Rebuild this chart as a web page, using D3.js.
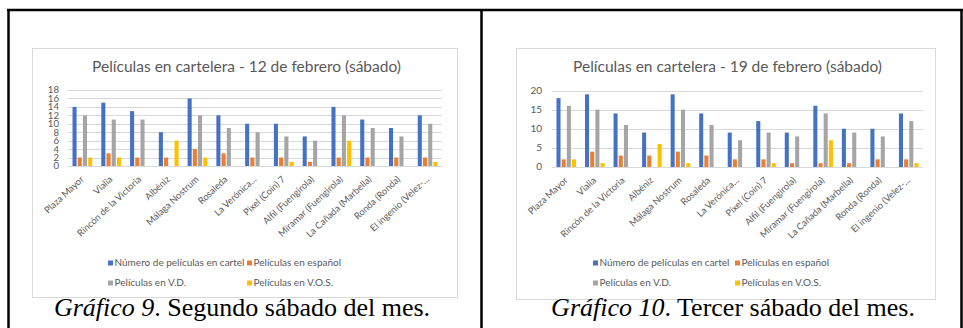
<!DOCTYPE html>
<html>
<head>
<meta charset="utf-8">
<script src="https://cdn.jsdelivr.net/npm/d3@7"></script>
<style>
  body { margin: 0; background: #fff; }
  svg { display: block; }
</style>
</head>
<body>
<svg id="page" width="963" height="328"></svg>
<script>
// categorías (cines)
const cines = ["Plaza Mayor", "Vialia", "Rincón de la Victoria", "Albéniz", "Málaga Nostrum",
  "Rosaleda", "La Verónica...", "Pixel (Coín) 7", "Alfil (Fuengirola)", "Miramar (Fuengirola)",
  "La Cañada (Marbella)", "Ronda (Ronda)", "El ingenio (Velez-..."];
const series = ["Número de películas en cartel", "Películas en español", "Películas en V.D.", "Películas en V.O.S."];
const colores = ["#4472C4", "#ED7D31", "#A5A5A5", "#FFC000"];

// 12 de febrero
const total12   = [14, 15, 13, 8, 16, 12, 10, 10, 7, 14, 11, 9, 12];
const espanol12 = [2, 3, 2, 2, 4, 3, 2, 2, 1, 2, 2, 2, 2];
const vd12      = [12, 11, 11, 0, 12, 9, 8, 7, 6, 12, 9, 7, 10];
const vos12     = [2, 2, 0, 6, 2, 0, 0, 1, 0, 6, 0, 0, 1];
const ticks12   = [0, 2, 4, 6, 8, 10, 12, 14, 16, 18];

// 19 de febrero
const total19   = [18, 19, 14, 9, 19, 14, 9, 12, 9, 16, 10, 10, 14];
const espanol19 = [2, 4, 3, 3, 4, 3, 2, 2, 1, 1, 1, 2, 2];
const vd19      = [16, 15, 11, 0, 15, 11, 7, 9, 8, 14, 9, 8, 12];
const vos19     = [2, 1, 0, 6, 1, 0, 0, 1, 0, 7, 0, 0, 1];
const ticks19   = [0, 5, 10, 15, 20];

const svg = d3.select("#page");
const gris = "#595959";
const font = "Lato, 'Liberation Sans', sans-serif";

// marco de la tabla
const borde = svg.append("g").attr("stroke", "#000").attr("stroke-width", 2.5);
borde.append("line").attr("x1", 8.5).attr("x2", 8.5).attr("y1", 9).attr("y2", 328);
borde.append("line").attr("x1", 7).attr("x2", 963).attr("y1", 10).attr("y2", 10);
borde.append("line").attr("x1", 481.5).attr("x2", 481.5).attr("y1", 9).attr("y2", 328);
borde.append("line").attr("x1", 961.5).attr("x2", 961.5).attr("y1", 9).attr("y2", 328);

function draw_chart(cfg) {
  const g = svg.append("g");
  // caja del gráfico
  g.append("rect")
    .attr("x", cfg.box[0] + 0.5).attr("y", cfg.box[1] + 0.5)
    .attr("width", cfg.box[2]).attr("height", cfg.box[3])
    .attr("fill", "#fff").attr("stroke", "#d9d9d9");

  g.append("text")
    .attr("x", cfg.box[0] + cfg.box[2] / 2 + 2).attr("y", 72)
    .attr("text-anchor", "middle")
    .attr("font-family", font).attr("font-size", 15.5)
    .attr("fill", gris)
    .text(cfg.title);

  const x0 = d3.scaleBand().domain(cines).range([cfg.plot[0], cfg.plot[1]]);
  const bw = x0.bandwidth();
  const x1 = d3.scaleBand().domain(series)
    .range([bw * 0.157, bw * 0.843]).paddingInner(0.22);
  const y = d3.scaleLinear().domain([0, cfg.max]).range([cfg.plot[3], cfg.plot[2]]);

  // rejilla
  g.append("g").selectAll("line").data(cfg.ticks).join("line")
    .attr("x1", cfg.plot[0]).attr("x2", cfg.plot[1])
    .attr("y1", (d) => Math.round(y(d)) + 0.5).attr("y2", (d) => Math.round(y(d)) + 0.5)
    .attr("stroke", "#d9d9d9").attr("stroke-width", 1);

  g.append("g").selectAll("text").data(cfg.ticks).join("text")
    .attr("x", cfg.plot[0] - cfg.tickGap).attr("y", (d) => y(d) + 3.4)
    .attr("text-anchor", "end")
    .attr("font-family", font).attr("font-size", cfg.tickSize)
    .attr("fill", gris)
    .text((d) => d);

  const values = cfg.values;
  const grupos = g.append("g").selectAll("g").data(cines).join("g")
    .attr("transform", (d) => `translate(${x0(d)},0)`);
  grupos.selectAll("rect")
    .data((d, i) => series.map((s, j) => ({ s, v: values[j][i], c: colores[j] })))
    .join("rect")
    .attr("x", (d) => x1(d.s))
    .attr("width", x1.bandwidth())
    .attr("y", (d) => y(d.v))
    .attr("height", (d) => y(0) - y(d.v))
    .attr("fill", (d) => d.c);

  // etiquetas de categoría
  g.append("g").selectAll("text").data(cines).join("text")
    .attr("transform", (d) => `translate(${x0(d) + bw / 2 + 2},${y(0) + 14}) rotate(-43)`)
    .attr("text-anchor", "end")
    .attr("font-family", font).attr("font-size", 9.3)
    .attr("fill", gris)
    .text((d) => d);

  // leyenda
  const leg = g.append("g").selectAll("g").data(series).join("g")
    .attr("transform", (d, i) =>
      `translate(${cfg.legend[i % 2]},${i < 2 ? 263 : 283})`);
  leg.append("rect")
    .attr("x", 0).attr("y", -2.5).attr("width", 5).attr("height", 5)
    .attr("fill", (d, i) => colores[i]);
  leg.append("text")
    .attr("x", 6.5).attr("y", 3.4)
    .attr("font-family", font).attr("font-size", 10)
    .attr("fill", gris)
    .text((d) => d);

  // pie del gráfico
  const cap = svg.append("text")
    .attr("x", cfg.caption).attr("y", 316)
    .attr("text-anchor", "middle")
    .attr("font-family", "'Liberation Serif', 'Times New Roman', serif")
    .attr("font-size", 26)
    .attr("fill", "#000");
  cap.append("tspan").attr("font-style", "italic").text(cfg.capIt);
  cap.append("tspan").text(cfg.capText);
}

draw_chart({
  box: [32, 48, 425, 249],
  title: "Películas en cartelera - 12 de febrero (sábado)",
  plot: [68, 442, 90, 166],
  max: 18,
  ticks: ticks12,
  tickSize: 9.6,
  tickGap: 9,
  values: [total12, espanol12, vd12, vos12],
  legend: [108, 247],
  caption: 242,
  capIt: "Gráfico 9",
  capText: ". Segundo sábado del mes.",
});

draw_chart({
  box: [516, 48, 419, 251],
  title: "Películas en cartelera - 19 de febrero (sábado)",
  plot: [552, 923, 90.5, 167],
  max: 20,
  ticks: ticks19,
  tickSize: 10,
  tickGap: 10,
  values: [total19, espanol19, vd19, vos19],
  legend: [593, 735],
  caption: 733,
  capIt: "Gráfico 10",
  capText: ". Tercer sábado del mes.",
});
</script>
</body>
</html>
